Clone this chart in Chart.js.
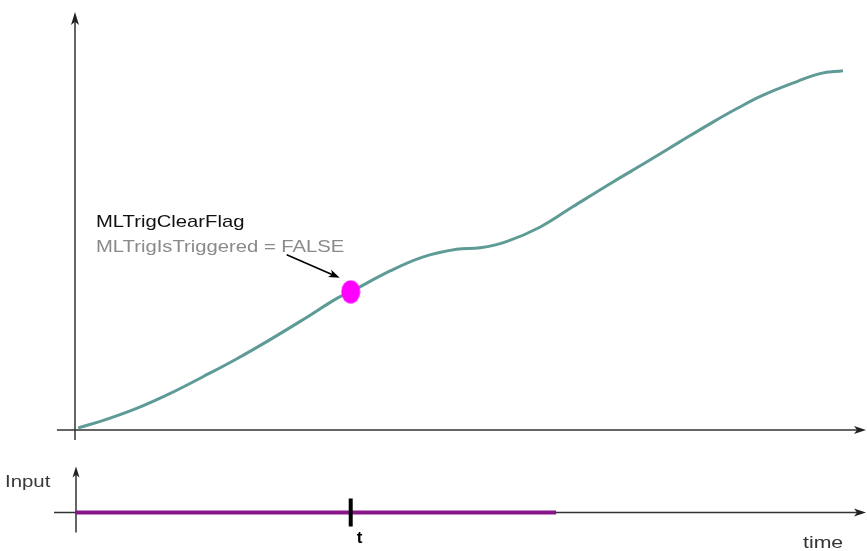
<!DOCTYPE html>
<html>
<head>
<meta charset="utf-8">
<script src="https://cdn.jsdelivr.net/npm/chart.js@4.4.1/dist/chart.umd.min.js"></script>
<style>
  body { margin: 0; background: #fff; }
  canvas { display: block; }
</style>
</head>
<body>
<canvas id="motionChart" width="867" height="551"></canvas>
<script>
// position curve (time units, position units)
const curveTime = [0.4, 3.5, 7.8, 12.0, 16.2, 20.5, 24.7, 28.9, 33.1, 34.9, 39.9, 44.1, 48.3, 51.3, 54.7, 58.9, 63.0, 68.1, 72.4, 76.6, 80.8, 83.8, 87.1, 91.4, 94.3, 97.2];
const curvePos  = [0.6, 2.6, 6.0, 10.1, 14.8, 19.8, 25.1, 30.7, 36.5, 38.4, 44.2, 48.1, 50.2, 50.6, 52.4, 56.4, 62.0, 68.9, 74.5, 80.1, 85.6, 89.3, 93.0, 96.8, 99.0, 99.8];

// trigger point on the curve
const trigTime = [34.9];
const trigPos = [38.4];

// Input signal (stays FALSE)
const inputTime = [0, 60.9];
const inputValue = [0, 0];
const tMarkTime = 34.9;

const labels = {
    flag: 'MLTrigClearFlag',
    state: 'MLTrigIsTriggered = FALSE',
    input: 'Input',
    time: 'time',
    t: 't'
};

const toXY = (xs, ys) => xs.map((x, i) => ({ x: x, y: ys[i] }));

// ellipse shaped marker for the trigger point
const dot = document.createElement('canvas');
dot.width = 20; dot.height = 24;
const dctx = dot.getContext('2d');
dctx.fillStyle = '#ff00ff';
dctx.beginPath();
dctx.ellipse(10, 12, 9.5, 11.5, 0, 0, Math.PI * 2);
dctx.fill();

function arrowHead(ctx, x, y, angle, len, half) {
    ctx.save();
    ctx.translate(x, y);
    ctx.rotate(angle);
    ctx.beginPath();
    ctx.moveTo(0, 0);
    ctx.lineTo(-len, -half);
    ctx.lineTo(-len * 0.75, 0);
    ctx.lineTo(-len, half);
    ctx.closePath();
    ctx.fill();
    ctx.restore();
}

function stretchedText(ctx, text, x, y, font, color, sx) {
    ctx.save();
    ctx.font = font;
    ctx.fillStyle = color;
    ctx.textBaseline = 'alphabetic';
    ctx.translate(x, y);
    ctx.scale(sx, 1);
    ctx.fillText(text, 0, 0);
    ctx.restore();
}

const axesPlugin = {
    id: 'axesPlugin',
    beforeDatasetsDraw(chart) {
        const { ctx, chartArea, scales } = chart;
        const x0 = scales.x.getPixelForValue(0);
        const y0 = scales.y.getPixelForValue(0);
        const yi0 = scales.yIn.getPixelForValue(0);
        ctx.save();
        ctx.strokeStyle = '#333';
        ctx.fillStyle = '#222';
        ctx.lineWidth = 1.5;
        // main axes
        ctx.beginPath();
        ctx.moveTo(x0, y0 + 10);
        ctx.lineTo(x0, chartArea.top + 6);
        ctx.moveTo(x0 - 18, y0);
        ctx.lineTo(chartArea.right - 4, y0);
        ctx.stroke();
        arrowHead(ctx, x0, chartArea.top + 2, -Math.PI / 2, 13, 4);
        arrowHead(ctx, chartArea.right + 1, y0, 0, 12, 4);
        // input axes
        ctx.beginPath();
        ctx.moveTo(x0 + 1, yi0 + 20);
        ctx.lineTo(x0 + 1, yi0 - 40);
        ctx.moveTo(x0 - 21, yi0);
        ctx.lineTo(chartArea.right - 4, yi0);
        ctx.stroke();
        arrowHead(ctx, x0 + 1, yi0 - 46, -Math.PI / 2, 11, 3.5);
        arrowHead(ctx, chartArea.right + 1, yi0, 0, 12, 4);
        ctx.restore();
    },
    afterDatasetsDraw(chart) {
        const { ctx, scales } = chart;
        const tx = scales.x.getPixelForValue(tMarkTime);
        const yi0 = scales.yIn.getPixelForValue(0);
        const px = scales.x.getPixelForValue(trigTime[0]);
        const py = scales.y.getPixelForValue(trigPos[0]);
        ctx.save();
        // t marker
        ctx.fillStyle = '#000';
        ctx.fillRect(tx - 2, yi0 - 14, 4, 28);
        ctx.font = 'bold 17px "Liberation Sans", Arial, sans-serif';
        ctx.fillText(labels.t, tx + 6, yi0 + 31);
        // annotation arrow to the trigger point
        const ax0 = px - 64, ay0 = py - 37;
        const ax1 = px - 11, ay1 = py - 14;
        ctx.strokeStyle = '#000';
        ctx.lineWidth = 1.6;
        ctx.beginPath();
        ctx.moveTo(ax0, ay0);
        ctx.lineTo(ax1 - 6, ay1 - 2.6);
        ctx.stroke();
        arrowHead(ctx, ax1, ay1, Math.atan2(ay1 - ay0, ax1 - ax0), 11, 4);
        ctx.restore();
        // texts
        stretchedText(ctx, labels.flag, 96, 227, '17px "Liberation Sans", Arial, sans-serif', '#111', 1.19);
        stretchedText(ctx, labels.state, 96, 252, '17px "Liberation Sans", Arial, sans-serif', '#8a8a8a', 1.19);
        stretchedText(ctx, labels.input, 5, 487, '17px "Liberation Sans", Arial, sans-serif', '#3a3a3a', 1.2);
        stretchedText(ctx, labels.time, 803, 548, '17px "Liberation Sans", Arial, sans-serif', '#333', 1.25);
    }
};

const ctx = document.getElementById('motionChart').getContext('2d');
const motionChart = new Chart(ctx, {
    type: 'line',
    data: {
        datasets: [{
            label: 'Trigger',
            data: toXY(trigTime, trigPos),
            yAxisID: 'y',
            showLine: false,
            pointStyle: dot,
            pointRadius: 10
        }, {
            label: 'Position',
            data: toXY(curveTime, curvePos),
            yAxisID: 'y',
            borderColor: '#5f9b96',
            borderWidth: 3,
            pointRadius: 0,
            tension: 0.4,
            fill: false
        }, {
            label: 'Input',
            data: toXY(inputTime, inputValue),
            yAxisID: 'yIn',
            borderColor: '#87168a',
            borderWidth: 4,
            pointRadius: 0,
            fill: false
        }]
    },
    options: {
        responsive: false,
        animation: false,
        layout: { autoPadding: false, padding: { left: 75, right: 2, top: 10, bottom: 11 } },
        plugins: {
            legend: { display: false },
            tooltip: { enabled: false }
        },
        scales: {
            x: { type: 'linear', display: false, min: 0, max: 100 },
            y: { display: false, min: -30.56, max: 116.67 },
            yIn: { display: false, min: -1, max: 18.27 }
        }
    },
    plugins: [axesPlugin]
});
</script>
</body>
</html>
